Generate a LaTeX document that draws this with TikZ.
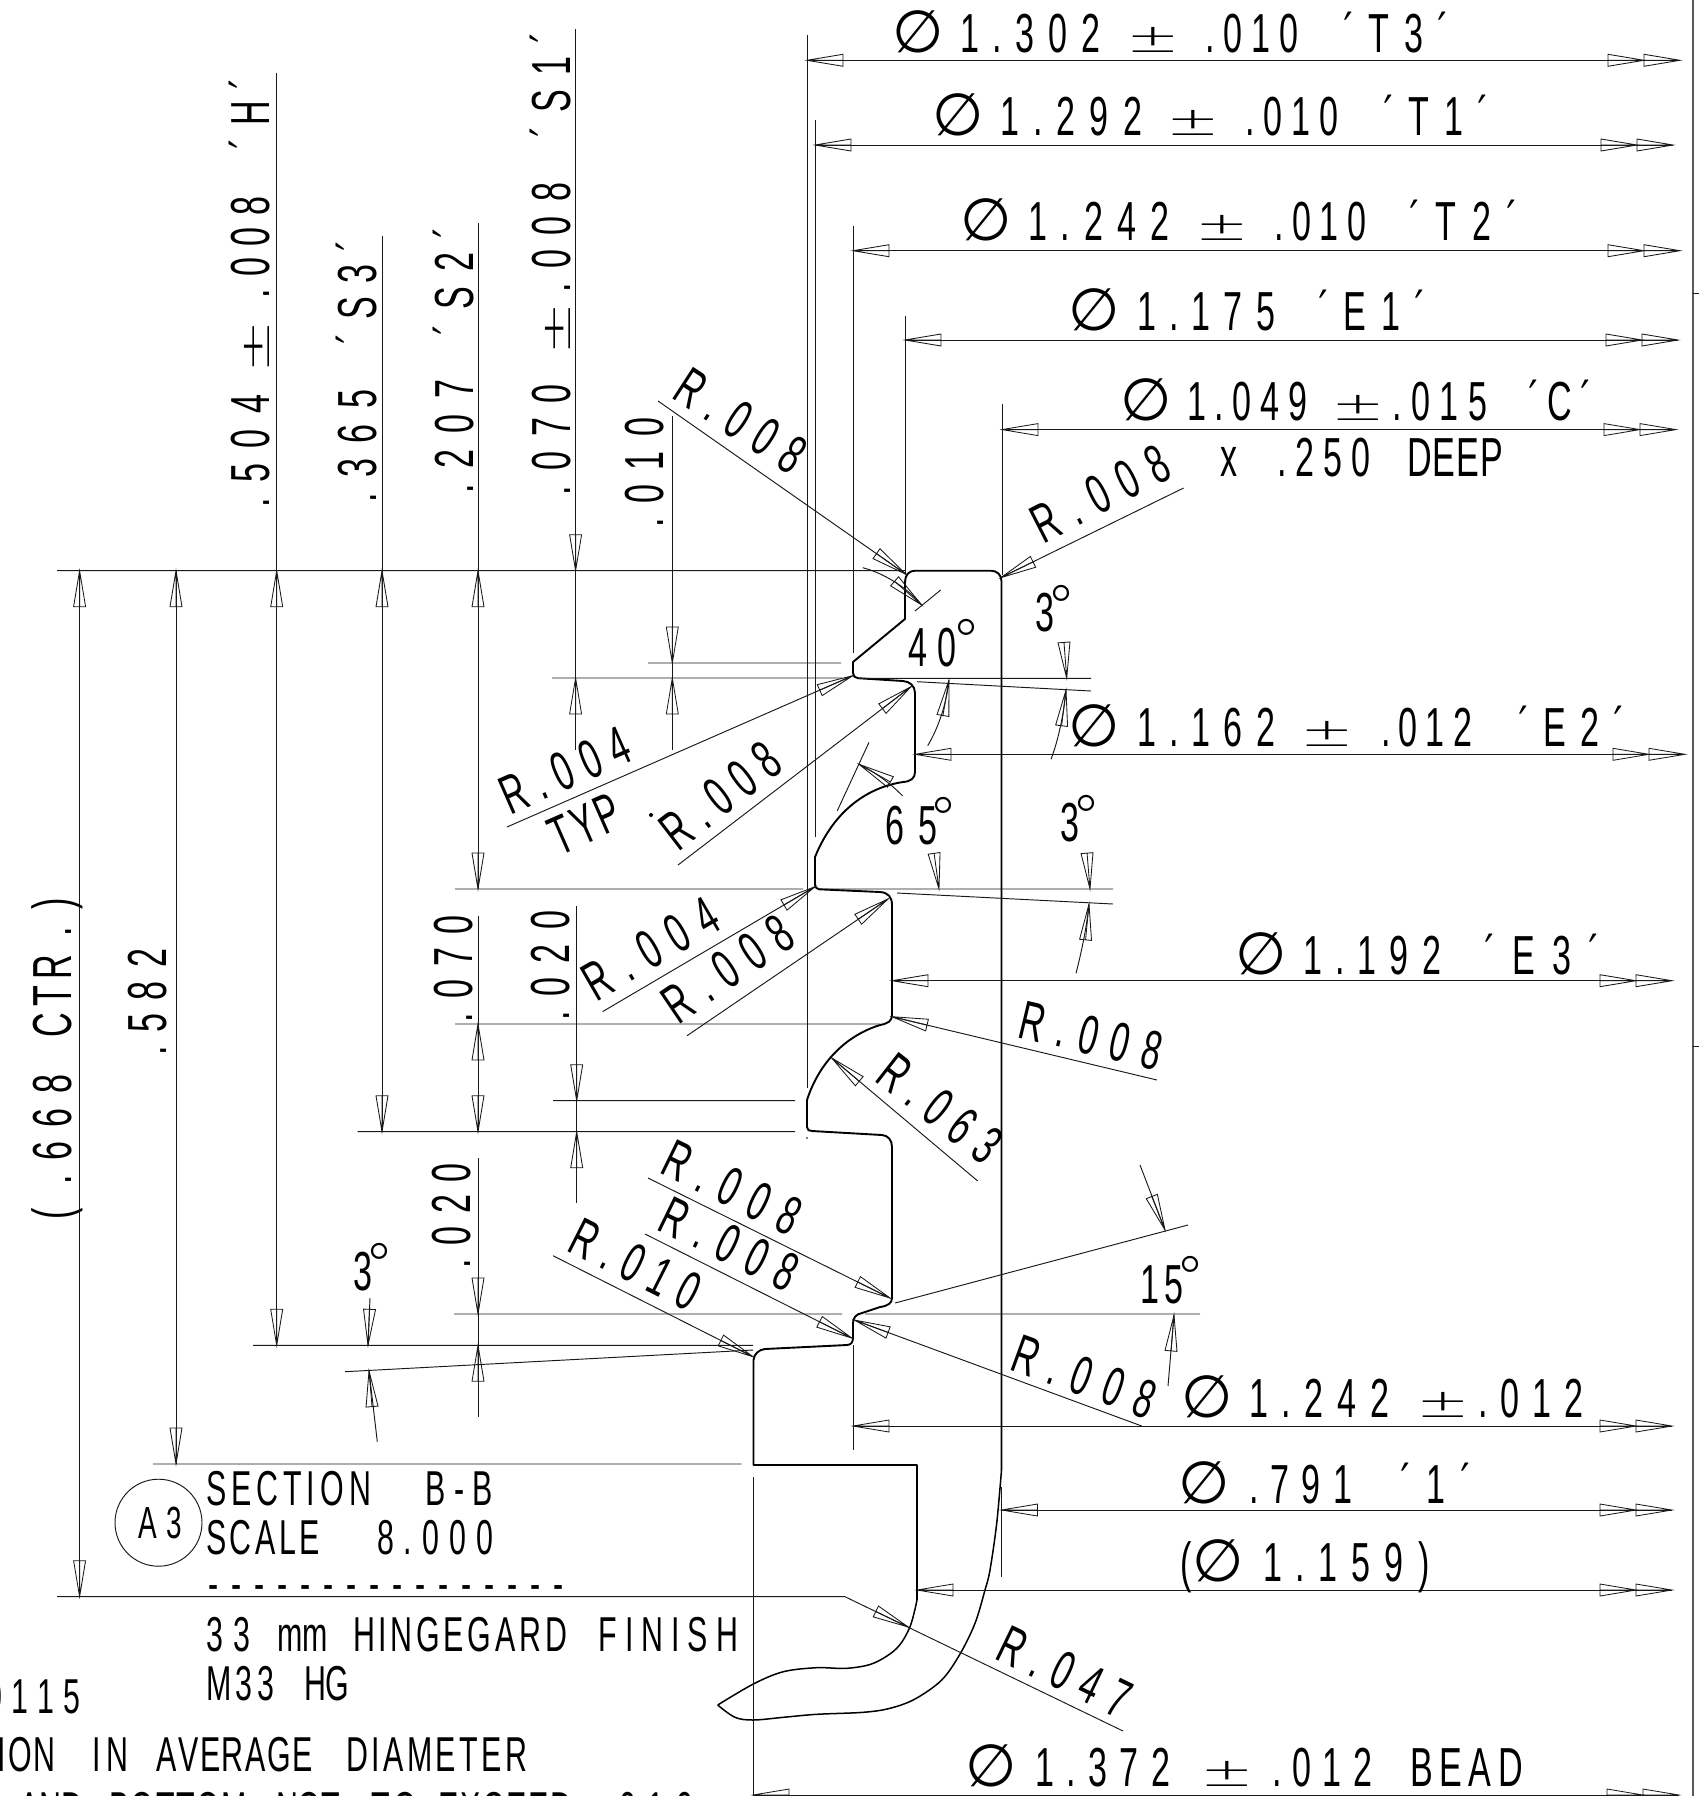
\documentclass[tikz,border=0pt]{standalone}
\usepackage{fontspec}
\newfontfamily\cadf[FakeStretch=0.62]{Liberation Sans}
\newfontfamily\symf{DejaVu Sans ExtraLight}
\newfontfamily\diaf{DejaVu Sans}
\newfontfamily\pmf[FakeStretch=1.6]{DejaVu Sans ExtraLight}
\makeatletter
\newcommand\spreadbox[2]{\hbox to #1pt{\let\spsep\relax\@tfor\spch:=#2\do{\spsep\spch\let\spsep\hfil}}}
\makeatother
\newcounter{tn}
\tikzset{
  thinl/.style={line width=0.95pt,black!90},
  headl/.style={line width=0.85pt,black!90},
  profile/.style={line width=1.9pt,black,line join=round},
  curvel/.style={line width=1.5pt,black,line join=round},
  cad/.style={font=\cadf\fontsize{55}{55}\selectfont,inner sep=0pt,outer sep=0pt,anchor=base west},
  cadm/.style={font=\cadf\fontsize{49}{49}\selectfont},
  cads/.style={font=\cadf\fontsize{45}{45}\selectfont},
  symb/.style={font=\symf\fontsize{60}{60}\selectfont,inner sep=0pt,outer sep=0pt,anchor=base west},
  diam/.style={font=\diaf\fontsize{59}{59}\selectfont,inner sep=0pt,outer sep=0pt,anchor=base west},
  pmsy/.style={font=\pmf\fontsize{40}{40}\selectfont,inner sep=0pt,outer sep=0pt,anchor=base west},
}
% text group: [opts] x y rot width text
\newcommand\tx[6][]{\stepcounter{tn}\node[cad,rotate=#4,#1] (t\arabic{tn}) at (#2,#3) {\spreadbox{#5}{#6}};}
% degree sign: x y
\newcommand\dg[2]{\stepcounter{tn}\node[symb] (t\arabic{tn}) at (#1,#2) {\kern-5pt °};}
% diameter sign: x y
\newcommand\dia[2]{\stepcounter{tn}\node[diam] (t\arabic{tn}) at (#1,#2) {\kern-5pt ∅};}
\newcommand\plusm[3]{\stepcounter{tn}\node[pmsy,rotate=#3] (t\arabic{tn}) at (#1,#2) {\kern-6pt ±};}
% arrow head: tip x,y ; towards x,y
\newcommand\arr[4]{\pgfmathsetmacro\arrang{atan2((#4)-(#2),(#1)-(#3))}%
  \draw[headl,shift={(#1,#2)},rotate=\arrang] (0,0)--(-36,6)--(-36,-6)--cycle (0,0)--(-36,0);}
% horizontal dimension: xleft xright(tip) y
\newcommand\dimh[3]{\draw[thinl] (#1,#3)--(#2,#3);\arr{#1}{#3}{#1+40}{#3}%
  \arr{#2}{#3}{#2-40}{#3}\arr{#2-36}{#3}{#2-76}{#3}}
% vertical arrow tips
\newcommand\up[2]{\arr{#1}{#2}{#1}{#2+40}}
\newcommand\dn[2]{\arr{#1}{#2}{#1}{#2-40}}
% leader with head: tip, far end
\newcommand\ld[4]{\draw[thinl] (#3,#4)--(#1,#2);\arr{#1}{#2}{#3}{#4}}
\begin{document}
\begin{tikzpicture}[x=1pt,y=-1pt]
\useasboundingbox (0,0) rectangle (1699,1796);
% frame at the right
\draw[line width=1.2pt,black!65] (1693,0)--(1693,1796);
\draw[thinl] (1693,293)--(1699,293) (1693,1046)--(1699,1046);
% profile
\draw[profile] (905,582) .. controls (905,575) and (909,570.7) .. (915,570.7) -- (991,570.7)
  .. controls (997,570.7) and (1001.5,575) .. (1001.5,581) -- (1001.5,1470);
\draw[profile] (905,582) -- (905,619) -- (853,662) -- (853,673)
  .. controls (853,676) and (855,678) .. (858,678.2) -- (903,681)
  .. controls (910,681.5) and (915,686) .. (915,693) -- (915,772)
  .. controls (915,778) and (911,781.5) .. (903,782)
  .. controls (870,787) and (835,808) .. (815,857) -- (815,883)
  .. controls (815,887) and (816,889) .. (819,889.3) -- (880,892)
  .. controls (888,892.5) and (892,897) .. (892,905) -- (892,1015)
  .. controls (892,1021) and (888,1023.5) .. (880,1025)
  .. controls (848,1035) and (820,1060) .. (807,1100) -- (807,1127)
  .. controls (807,1130) and (809,1131) .. (812,1131) -- (882,1135)
  .. controls (888,1135.5) and (892,1140) .. (892,1147) -- (892,1298)
  .. controls (892,1303) and (888,1306) .. (880,1307) -- (862,1313)
  .. controls (856,1314) and (853,1318) .. (853,1323) -- (853,1338)
  .. controls (853,1342) and (851,1345) .. (847,1345) -- (765,1349)
  .. controls (759,1349.5) and (754,1354) .. (753.5,1360) -- (753.5,1465) -- (917,1465) -- (917,1600);
\draw[curvel] plot[smooth,tension=.55] coordinates {(917,1600) (910,1626.7) (896.7,1648.3) (873.3,1663.3) (846.7,1668.3) (816.7,1667.7) (783.3,1671.7) (753.3,1684) (717.7,1705)};
\draw[curvel] plot[smooth,tension=.55] coordinates {(717.7,1705) (735,1717.3) (753.3,1720) (783.3,1717.3) (816.7,1714.3) (863.3,1712.3) (890,1708.3) (915,1699) (941.7,1680) (960,1654) (975,1623.3) (985,1590) (990,1570) (996.7,1523.3) (1001.5,1470)};
% extension lines
\draw[thinl] (807,35)--(807,1088) (815,120)--(815,837) (853,226)--(853,653) (905,316)--(905,575) (1002,404)--(1002,575);
\draw[thinl] (853,1345)--(853,1450) (1001.5,1487)--(1001.5,1577) (753,1477)--(753,1796);
\fill (807,1138) circle (0.8pt);
\fill (651,815) circle (2pt);
% horizontal datum and witness lines
\draw[thinl] (57,570.7)--(905,570.7) (552,678)--(842,678) (648,663)--(841,663)
  (455,889)--(803,889) (817,889)--(1113,889) (858,678.3)--(1091,678.3)
  (917,681.7)--(1091,691) (897,893)--(1113,904)
  (455,1024)--(880,1024) (553,1100.7)--(795,1100.7) (357.5,1131.7)--(795,1131.7)
  (454,1314)--(842,1314) (865,1314)--(1200,1314) (895,1303)--(1188,1225)
  (253,1345.3)--(753,1345.3) (345,1371.7)--(753,1350) (153,1464)--(741.6,1464)
  (57,1596.7)--(845,1596.7)--(1123,1731);
% right hand dimensions
\dimh{807}{1680}{60.3}
\dimh{815}{1673}{145}
\dimh{853}{1680}{250.7}
\dimh{905}{1678}{340}
\dimh{1002}{1676}{429.6}
\dimh{915}{1685}{754.3}
\dimh{892}{1672}{980.7}
\dimh{853}{1672}{1426}
\dimh{1001.5}{1672}{1510}
\dimh{917}{1672}{1590}
\dimh{753}{1679}{1795}
% left hand dimensions
\draw[thinl] (79.6,570.7)--(79.6,1596.7); \up{79.6}{570.7} \dn{79.6}{1596.7}
\draw[thinl] (176,570.7)--(176,1464); \up{176}{570.7} \dn{176}{1464}
\draw[thinl] (276.7,73)--(276.7,1345.3); \up{276.7}{570.7} \dn{276.7}{1345.3}
\draw[thinl] (382,236)--(382,1131.7); \up{382}{570.7} \dn{382}{1131.7}
\draw[thinl] (478,223)--(478,889); \up{478}{570.7} \dn{478}{889}
\draw[thinl] (575.6,29)--(575.6,750); \dn{575.6}{570.7} \up{575.6}{678}
\draw[thinl] (672.3,416)--(672.3,750); \dn{672.3}{663} \up{672.3}{678}
\draw[thinl] (478,916)--(478,1131.7); \up{478}{1024} \dn{478}{1131.7}
\draw[thinl] (576.7,906)--(576.7,1203); \dn{576.7}{1100.7} \up{576.7}{1131.7}
\draw[thinl] (478,1158)--(478,1417); \dn{478}{1314} \up{478}{1345.3}
% leaders
\ld{906}{574.3}{658}{401}
\ld{1000.7}{577.7}{1183.6}{488}
\ld{852.7}{675.7}{507}{827}
\ld{911}{686.7}{678}{865}
\ld{815}{886.7}{602.6}{1011.6}
\ld{888}{899}{687}{1035.7}
\ld{892}{1016.7}{1157}{1080}
\ld{831.7}{1058}{977.7}{1181}
\ld{890}{1298}{648}{1178}
\ld{851.7}{1338}{645}{1234}
\ld{753}{1356.7}{553}{1255.7}
\ld{854.3}{1320}{1141.7}{1426}
\arr{908.3}{1627}{845}{1596.7}
% angle marks
\draw[thinl] (915,611)--(940.7,590);
\draw[thinl] (862.7,567.7) .. controls (880,572) and (905,585) .. (921.7,605);
\arr{921.7}{605}{895}{581.7}
\draw[thinl] (869,742.3)--(837.3,810.7);
\draw[thinl] (859,764.3) .. controls (875,772) and (890,783) .. (902.7,796);
\arr{859}{764.3}{890}{781.7}
\arr{1066.7}{678.3}{1064}{642.7}
\draw[thinl] (1066,690) .. controls (1064,712) and (1059,738) .. (1051,759.3);
\arr{1066}{690}{1061.7}{725}
\draw[thinl] (949,680) .. controls (947,700) and (940,725) .. (927.7,745.7);
\arr{949}{680}{943.3}{713.3}
\arr{939}{889}{934}{852.7}
\arr{1090}{889}{1087}{852.7}
\draw[thinl] (1089,904) .. controls (1087,925) and (1082,950) .. (1076,973.3);
\arr{1089}{904}{1085.7}{938.3}
\draw[thinl] (1165,1230)--(1140,1165);
\arr{1165}{1230}{1152}{1197}
\draw[thinl] (1174,1315)--(1168,1386);
\arr{1174}{1315}{1171}{1351}
\draw[thinl] (368,1345.3)--(370,1298);
\arr{368}{1345.3}{370}{1298}
\draw[thinl] (369,1370.7)--(377.3,1441.7);
\arr{369}{1370.7}{372}{1406}
% right hand texts
\dia{897}{52}
\tx{960}{52}{0}{140}{1.302}
\plusm{1132}{52}{0}
\tx{1205}{52}{0}{93}{.010}
\tx{1343}{52}{0}{106}{´T3´}
\dia{937}{135}
\tx{1000}{135}{0}{142}{1.292}
\plusm{1172}{135}{0}
\tx{1245}{135}{0}{93}{.010}
\tx{1383}{135}{0}{106}{´T1´}
\dia{965}{240.7}
\tx{1028}{240.7}{0}{141}{1.242}
\plusm{1201}{240.7}{0}
\tx{1274}{240.7}{0}{92}{.010}
\tx{1409}{240.7}{0}{109}{´T2´}
\dia{1073}{330}
\tx{1137}{330}{0}{138}{1.175}
\tx{1318}{330}{0}{108}{´E1´}
\dia{1125}{420}
\tx{1187}{420}{0}{120}{1.049}
\plusm{1337}{420}{0}
\tx{1392}{420}{0}{95}{.015}
\tx{1528}{420}{0}{64}{´C´}
\tx{1220}{476.7}{0}{0}{x}
\tx{1277}{476.7}{0}{93}{.250}
\tx{1407}{476.7}{0}{96}{DEEP}
\dia{1073}{746}
\tx{1137}{746}{0}{138}{1.162}
\plusm{1306}{746}{0}
\tx{1381}{746}{0}{91}{.012}
\tx{1518}{746}{0}{107}{´E2´}
\dia{1240}{974}
\tx{1303}{974}{0}{138}{1.192}
\tx{1484}{974}{0}{116}{´E3´}
\dia{1186}{1417}
\tx{1249}{1417}{0}{140}{1.242}
\plusm{1422}{1417}{0}
\tx{1478}{1417}{0}{105}{.012}
\dia{1183}{1503}
\tx{1249}{1503}{0}{103}{.791}
\tx{1400}{1503}{0}{72}{´1´}
\tx{1180}{1581}{0}{0}{(}
\dia{1197}{1581}
\tx{1263}{1581}{0}{140}{1.159}
\tx{1418}{1581}{0}{0}{)}
\dia{970}{1786}
\tx{1035}{1786}{0}{135}{1.372}
\plusm{1206}{1786}{0}
\tx{1272}{1786}{0}{100}{.012}
\tx{1410}{1786}{0}{113}{BEAD}
% angles
\tx{908}{666}{0}{48}{40}\dg{956}{662}
\tx{885}{844}{0}{52}{65}\dg{933}{840}
\tx{1035}{631.7}{0}{0}{3}\dg{1051}{628}
\tx{1060}{841.7}{0}{0}{3}\dg{1076}{838}
\tx{1140}{1303}{0}{43}{15}\dg{1180}{1299}
\tx{353}{1290}{0}{0}{3}\dg{369}{1286}
% vertical texts
\tx{269}{507}{90}{112}{.504}
\plusm{269}{367}{90}
\tx{269}{298}{90}{101}{.008}
\tx{269}{149}{90}{71}{´H´}
\tx{376}{502}{90}{112}{.365}
\tx{376}{344}{90}{104}{´S3´}
\tx{473}{493}{90}{113}{.207}
\tx{473}{335}{90}{108}{´S2´}
\tx{570}{495}{90}{111}{.070}
\plusm{570}{349}{90}
\tx{570}{292}{90}{109}{.008}
\tx{570}{137}{90}{105}{´S1´}
\tx{663}{527}{90}{109}{.010}
\tx{472}{1022}{90}{107}{.070}
\tx{569}{1020}{90}{109}{.020}
\tx{470}{1268}{90}{105}{.020}
\tx{166.7}{1055}{90}{106}{.582}
\tx{71.7}{1220}{90}{0}{(}
\tx{71.7}{1184}{90}{109}{.668}
\tx{71.7}{1037}{90}{82}{CTR}
\tx{71.7}{937}{90}{0}{.}
\tx{71.7}{910}{90}{0}{)}
% radii
\tx{670}{397}{-33}{144}{R.008}
\tx{1043}{544}{27}{147}{R.008}
\tx{510}{815}{23.7}{136}{R.004}
\tx{559}{856}{23.7}{73}{TYP}
\tx{678}{852}{37.5}{136}{R.008}
\tx{596}{1002}{30}{148}{R.004}
\tx{678}{1025}{34}{145}{R.008}
\tx{1016}{1037}{-13.4}{145}{R.008}
\tx{873}{1080}{-38}{140}{R.063}
\tx{658}{1172.7}{-26}{146}{R.008}
\tx{655.7}{1229}{-26}{146}{R.008}
\tx{565}{1250}{-26.8}{138}{R.010}
\tx{1008}{1369}{-20}{148}{R.008}
\tx{993}{1658}{-25.8}{141}{R.047}
% section block
\node[circle,draw,thinl,minimum size=87pt,inner sep=0pt] (a3) at (158.5,1522.7) {};
\tx[cads]{138}{1538}{0}{44}{A3}
\tx[cadm]{206}{1505.7}{0}{165}{SECTION}
\tx[cadm]{425.6}{1505.7}{0}{67.4}{B-B}
\tx[cadm]{206}{1554}{0}{114}{SCALE}
\tx[cadm]{377}{1554}{0}{116}{8.000}
\tx[cadm]{208}{1600.5}{0}{356}{----------------}
\tx[cadm]{206}{1651.7}{0}{44}{33}
\tx[cadm]{277}{1651.7}{0}{47}{mm}
\tx[cadm]{353}{1651.7}{0}{214}{HINGEGARD}
\tx[cadm]{598.6}{1651.7}{0}{139.4}{FINISH}
\tx[cadm]{206}{1700.7}{0}{68}{M33}
\tx[cadm]{304}{1700.7}{0}{42.6}{HG}
\tx[cadm]{-14}{1713}{0}{94}{0115}
\tx[cadm]{-2}{1771.7}{0}{57.7}{ION}
\tx[cadm]{92}{1771.7}{0}{36.5}{IN}
\tx[cadm]{156.6}{1771.7}{0}{156}{AVERAGE}
\tx[cadm]{346.6}{1771.7}{0}{180.4}{DIAMETER}
\tx[cadm]{19.4}{1826}{0}{58.1}{AND}
\tx[cadm]{109}{1826}{0}{138}{BOTTOM}
\tx[cadm]{276}{1826}{0}{63}{NOT}
\tx[cadm]{371}{1826}{0}{46}{TO}
\tx[cadm]{438.7}{1826}{0}{133.3}{EXCEED}
\tx[cadm]{600}{1826}{0}{93}{.010}
\end{tikzpicture}
\end{document}
